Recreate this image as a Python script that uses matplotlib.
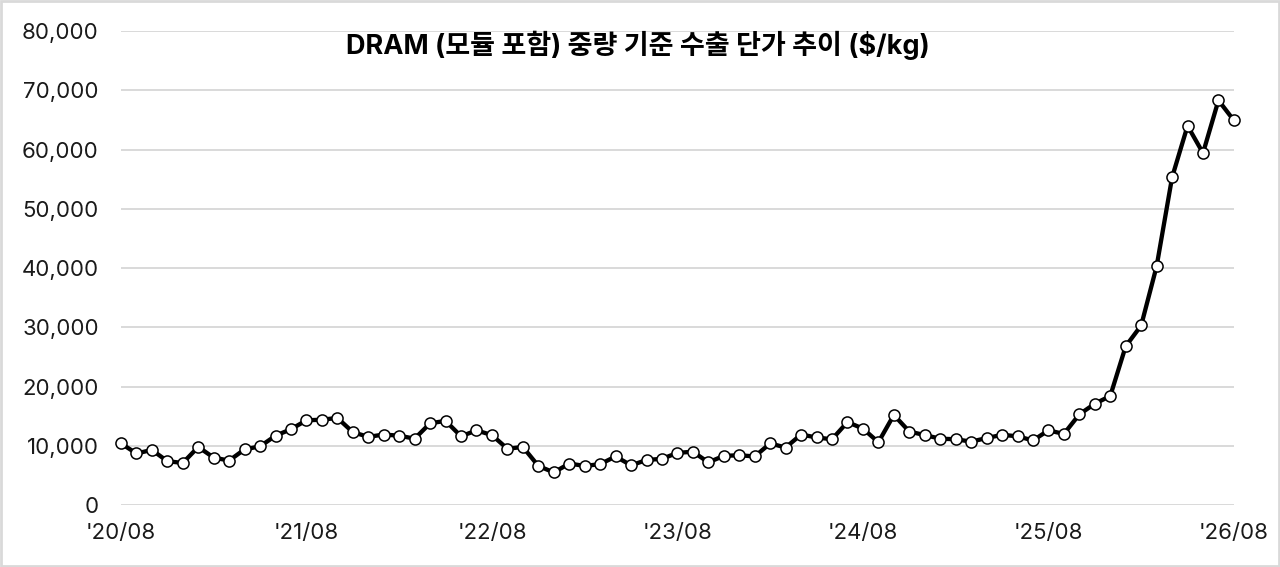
import matplotlib.pyplot as plt
from matplotlib.patches import Rectangle
from matplotlib.ticker import FuncFormatter

# --- data: monthly DRAM export unit price ($/kg), '20/08 .. '26/08 ---
prices = [10400, 8700, 9300, 7400, 7100, 9800, 8000, 7500, 9400, 9900,
          11700, 12800, 14300, 14400, 14700, 12300, 11500, 11900, 11700, 11200,
          13800, 14200, 11600, 12600, 11800, 9500, 9800, 6600, 5500, 7000,
          6600, 6900, 8200, 6700, 7600, 7800, 8800, 9000, 7200, 8300,
          8400, 8200, 10400, 9700, 11900, 11400, 11100, 14000, 12900, 10600,
          15200, 12400, 11800, 11200, 11100, 10700, 11300, 11850, 11600, 10900,
          12600, 12000, 15300, 17100, 18400, 26800, 30300, 40300, 55300, 64000,
          59400, 68300, 64900]
tick_pos = [0, 12, 24, 36, 48, 60, 72]
tick_labels = ["'20/08", "'21/08", "'22/08", "'23/08", "'24/08", "'25/08", "'26/08"]
title = "DRAM (모듈 포함) 중량 기준 수출 단가 추이 ($/kg)"

plt.rcParams['font.family'] = ['Inter', 'Noto Sans CJK KR', 'DejaVu Sans']

fig = plt.figure(figsize=(12.8, 5.67), dpi=100)
ax = fig.add_axes([0.0945, 0.1093, 0.8695, 0.836])

x = list(range(len(prices)))
ax.plot(x, prices, color='black', lw=3.1, marker='o', ms=8,
        mfc='white', mec='black', mew=1.1, clip_on=False, zorder=3)

ax.set_xlim(0, 72)
ax.set_ylim(0, 80000)
ax.set_yticks(range(0, 80001, 10000))
ax.yaxis.set_major_formatter(FuncFormatter(lambda v, p: f"{int(v):,}"))
ax.set_xticks(tick_pos)
ax.set_xticklabels(tick_labels)
ax.tick_params(axis='both', length=0, labelsize=16, colors='#1a1a1a')
ax.tick_params(axis='y', pad=16)
ax.tick_params(axis='x', pad=13)
ax.grid(axis='y', color='#d9d9d9', lw=1.4)
ax.set_axisbelow(True)
for s in ax.spines.values():
    s.set_visible(False)

fig.text(0.498, 0.92, title, ha='center', va='center',
         fontsize=19.5, fontweight='bold', color='black')

# light frame round the picture
fig.patches.append(Rectangle((0.001, 0.002), 0.998, 0.996, transform=fig.transFigure,
                             fill=False, edgecolor='#d9d9d9', lw=2))

fig.savefig('out.png', dpi=100)
